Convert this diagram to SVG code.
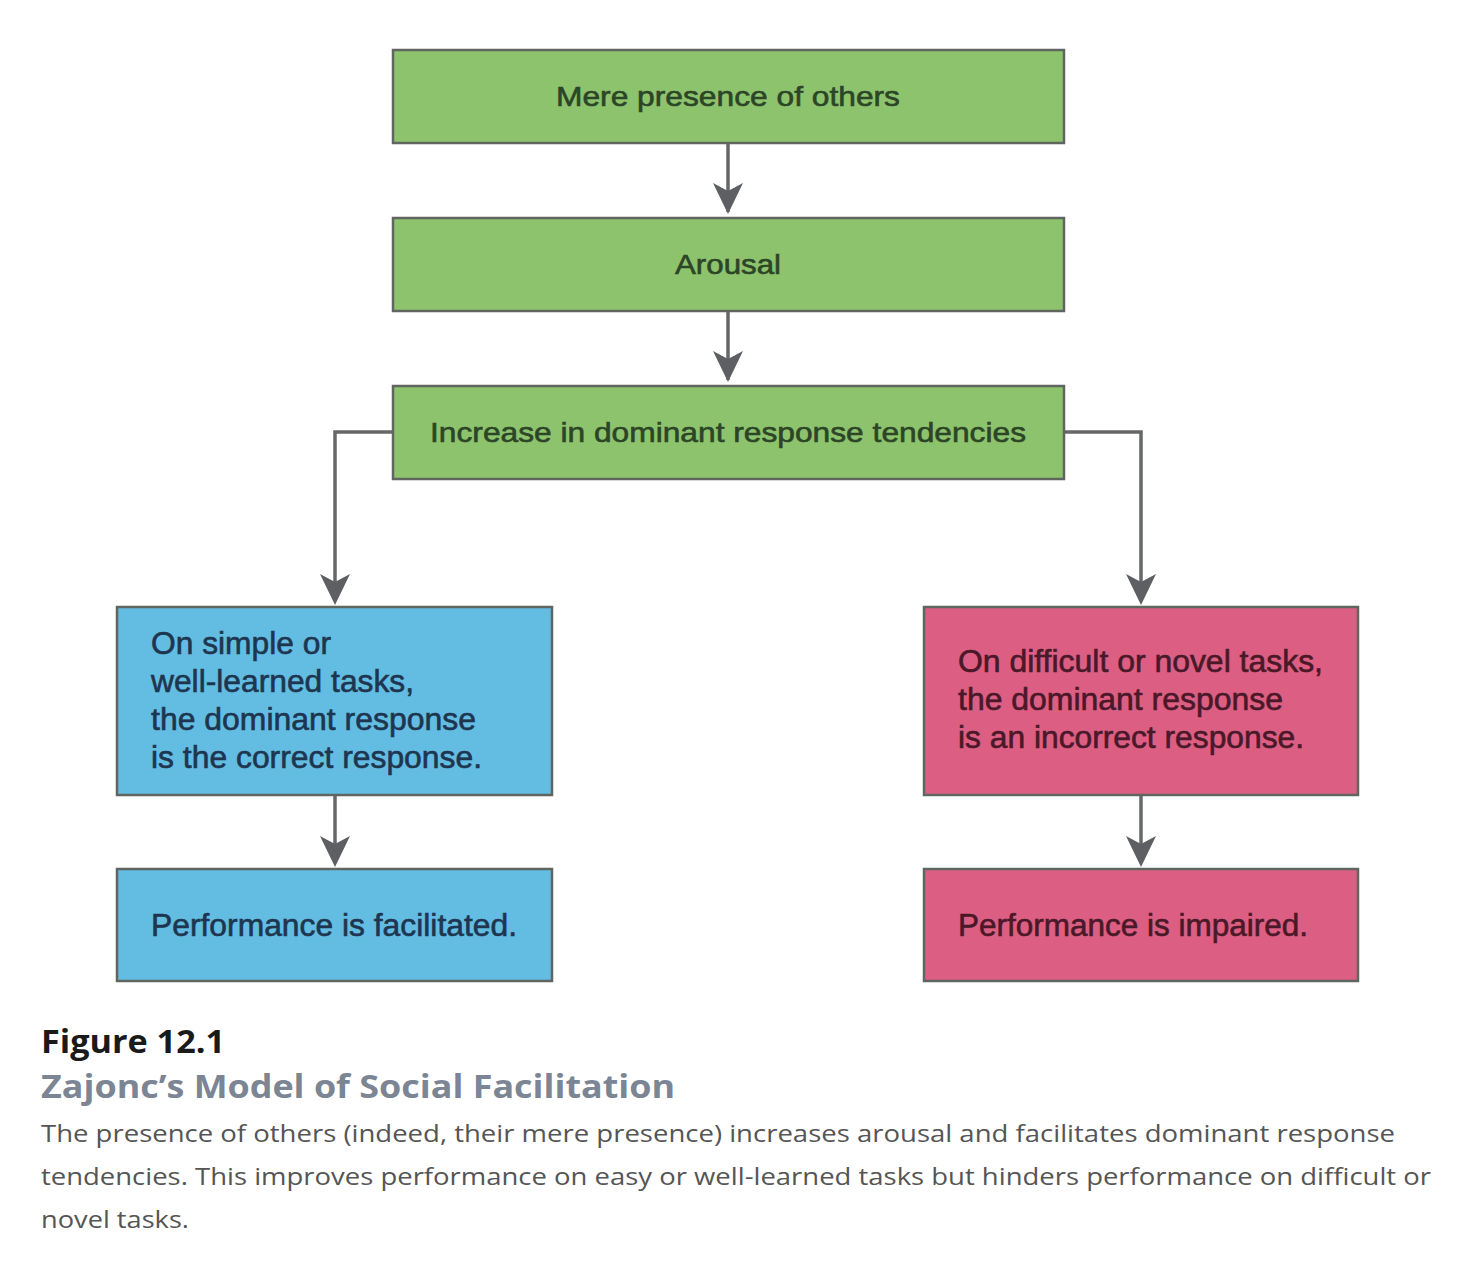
<svg xmlns="http://www.w3.org/2000/svg" width="1474" height="1269" viewBox="0 0 1474 1269">
<style>
.box{stroke:#5f6660;stroke-width:2.5}
.g{fill:#8ec36e}
.b{fill:#63bde2}
.p{fill:#dc5f83}
.t{font-family:"Liberation Sans",Arial,sans-serif;font-size:28px;stroke-width:0.6}
.t2{font-size:31px}
.tg{fill:#2c4526;stroke:#2c4526}
.tb{fill:#1e3550;stroke:#1e3550}
.tp{fill:#4a1828;stroke:#4a1828}
.conn{fill:none;stroke:#666769;stroke-width:3.5}
.cap{font-family:"Open Sans","Liberation Sans",sans-serif}
</style>
<rect width="1474" height="1269" fill="#ffffff"/>
<g id="connectors">
<line class="conn" x1="728" y1="143" x2="728" y2="212"/>
<line class="conn" x1="728" y1="311" x2="728" y2="380"/>
<path class="conn" d="M393,432 H335 V600"/>
<path class="conn" d="M1064,432 H1141 V600"/>
<line class="conn" x1="335" y1="795" x2="335" y2="862"/>
<line class="conn" x1="1141" y1="795" x2="1141" y2="862"/>
<g fill="#5e5f62">
<path d="M713,183 L728,191 L743,183 L728,214 Z"/>
<path d="M713,351 L728,359 L743,351 L728,382 Z"/>
<path d="M320,574 L335,582 L350,574 L335,605 Z"/>
<path d="M1126,574 L1141,582 L1156,574 L1141,605 Z"/>
<path d="M320,836 L335,844 L350,836 L335,867 Z"/>
<path d="M1126,836 L1141,844 L1156,836 L1141,867 Z"/>
</g>
</g>
<g id="node-mere">
<rect class="box g" x="393" y="50" width="671" height="93"/>
<text class="t tg" x="728" y="106" text-anchor="middle" textLength="344" lengthAdjust="spacingAndGlyphs">Mere presence of others</text>
</g>
<g id="node-arousal">
<rect class="box g" x="393" y="218" width="671" height="93"/>
<text class="t tg" x="728" y="274" text-anchor="middle" textLength="106" lengthAdjust="spacingAndGlyphs">Arousal</text>
</g>
<g id="node-increase">
<rect class="box g" x="393" y="386" width="671" height="93"/>
<text class="t tg" x="728" y="442" text-anchor="middle" textLength="596" lengthAdjust="spacingAndGlyphs">Increase in dominant response tendencies</text>
</g>
<g id="node-simple">
<rect class="box b" x="117" y="607" width="435" height="188"/>
<text class="t t2 tb" x="151" y="654" textLength="180" lengthAdjust="spacingAndGlyphs">On simple or</text>
<text class="t t2 tb" x="151" y="692" textLength="263" lengthAdjust="spacingAndGlyphs">well-learned tasks,</text>
<text class="t t2 tb" x="151" y="730" textLength="325" lengthAdjust="spacingAndGlyphs">the dominant response</text>
<text class="t t2 tb" x="151" y="768" textLength="331" lengthAdjust="spacingAndGlyphs">is the correct response.</text>
</g>
<g id="node-facilitated">
<rect class="box b" x="117" y="869" width="435" height="112"/>
<text class="t t2 tb" x="151" y="936" textLength="366" lengthAdjust="spacingAndGlyphs">Performance is facilitated.</text>
</g>
<g id="node-difficult">
<rect class="box p" x="924" y="607" width="434" height="188"/>
<text class="t t2 tp" x="958" y="672" textLength="365" lengthAdjust="spacingAndGlyphs">On difficult or novel tasks,</text>
<text class="t t2 tp" x="958" y="710" textLength="325" lengthAdjust="spacingAndGlyphs">the dominant response</text>
<text class="t t2 tp" x="958" y="748" textLength="346" lengthAdjust="spacingAndGlyphs">is an incorrect response.</text>
</g>
<g id="node-impaired">
<rect class="box p" x="924" y="869" width="434" height="112"/>
<text class="t t2 tp" x="958" y="936" textLength="350" lengthAdjust="spacingAndGlyphs">Performance is impaired.</text>
</g>
<g id="caption">
<text class="cap" x="41" y="1053" font-size="32" font-weight="bold" fill="#1a1a1a" textLength="184" lengthAdjust="spacingAndGlyphs">Figure 12.1</text>
<text class="cap" x="41" y="1098" font-size="32" font-weight="bold" fill="#7b8594" textLength="634" lengthAdjust="spacingAndGlyphs">Zajonc’s Model of Social Facilitation</text>
<text class="cap" x="41" y="1142" font-size="24" fill="#555555" textLength="1354" lengthAdjust="spacingAndGlyphs">The presence of others (indeed, their mere presence) increases arousal and facilitates dominant response</text>
<text class="cap" x="41" y="1185" font-size="24" fill="#555555" textLength="1390" lengthAdjust="spacingAndGlyphs">tendencies. This improves performance on easy or well-learned tasks but hinders performance on difficult or</text>
<text class="cap" x="41" y="1228" font-size="24" fill="#555555" textLength="148" lengthAdjust="spacingAndGlyphs">novel tasks.</text>
</g>
</svg>
